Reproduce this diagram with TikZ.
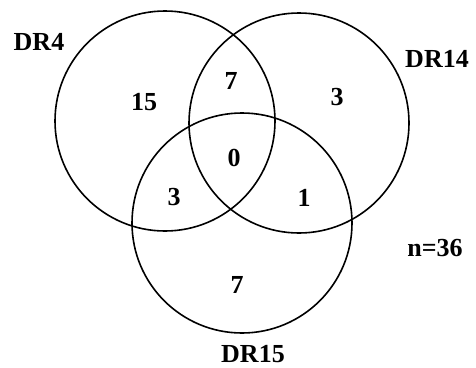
\documentclass[tikz,border=0pt]{standalone}
\usepackage{fontspec}
\setmainfont{Liberation Serif}
\begin{document}
\begin{tikzpicture}[x=1pt,y=-1pt,
  setcircle/.style={circle,draw=black,line width=1.6pt,minimum size=220pt,inner sep=0pt},
  lbl/.style={font=\bfseries\fontsize{26}{26}\selectfont,inner sep=0pt,anchor=center}]
\useasboundingbox (0,0) rectangle (476,367);
\node[setcircle] (A) at (165,121) {};
\node[setcircle] (B) at (299,123) {};
\node[setcircle] (C) at (242,223) {};
\node[lbl] (lA) at (39,42) {DR4};
\node[lbl] (lB) at (437,59) {DR14};
\node[lbl] (lC) at (253,354) {DR15};
\node[lbl] (a) at (144,102) {15};
\node[lbl] (ab) at (231,81) {7};
\node[lbl] (b) at (337,97) {3};
\node[lbl] (abc) at (234,158) {0};
\node[lbl] (ac) at (174,197) {3};
\node[lbl] (bc) at (304,198) {1};
\node[lbl] (c) at (237,285) {7};
\node[lbl] (n) at (435,248) {n=36};
\end{tikzpicture}
\end{document}
